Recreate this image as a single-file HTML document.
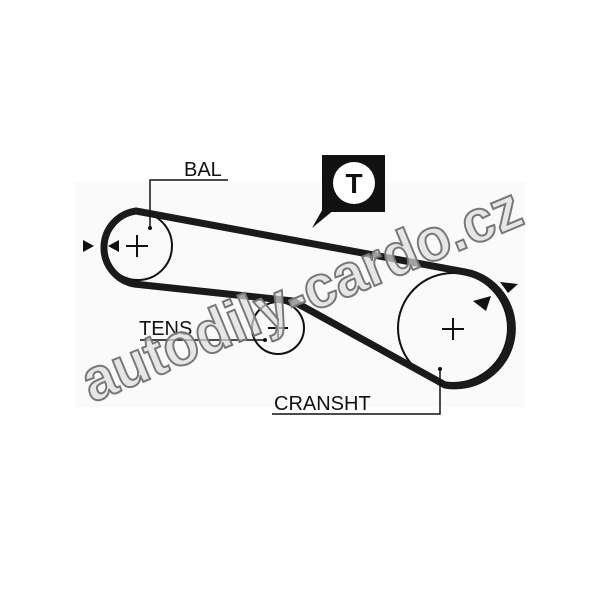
<!DOCTYPE html>
<html><head><style>html,body{margin:0;padding:0;background:#fff}</style></head>
<body>
<svg width="600" height="589" viewBox="0 0 600 589" xmlns="http://www.w3.org/2000/svg">
<rect width="600" height="589" fill="#fff"/>
<rect x="75" y="182" width="450" height="225" fill="#fafafa"/>
<circle cx="138" cy="246" r="34" fill="none" stroke="#111" stroke-width="2"/>
<circle cx="278" cy="328" r="26" fill="none" stroke="#111" stroke-width="2"/>
<circle cx="453" cy="328" r="55" fill="none" stroke="#111" stroke-width="2"/>
<path d="M136,211 L465,272 A57,57 0 0 1 445,385 L293,301 L134,284 A37,37 0 0 1 136,211 Z" fill="none" stroke="#1a1a1a" stroke-width="7" stroke-linejoin="round"/>
<g stroke="#111" stroke-width="2">
<line x1="126" y1="246" x2="148" y2="246"/><line x1="137" y1="235" x2="137" y2="257"/>
<line x1="268" y1="328" x2="288" y2="328"/><line x1="278" y1="318" x2="278" y2="338"/>
<line x1="442" y1="329" x2="464" y2="329"/><line x1="453" y1="318" x2="453" y2="340"/>
</g>
<polygon points="83,240 83,252 94,246" fill="#111"/>
<polygon points="119,240 119,252 108,246" fill="#111"/>
<polygon points="500,282 518,284 508,293" fill="#111"/>
<polygon points="473,301 491,296 486,311" fill="#111"/>
<g stroke="#111" stroke-width="1.5" fill="none">
<polyline points="228,180 150,180 150,228"/>
<line x1="140" y1="340" x2="264" y2="340"/>
<polyline points="272,414 440,414 440,369"/>
</g>
<circle cx="150" cy="228" r="2" fill="#111"/><circle cx="265" cy="340" r="2" fill="#111"/><circle cx="440" cy="369" r="2" fill="#111"/>
<g font-family="Liberation Sans, sans-serif" font-size="20" fill="#111">
<text x="184" y="176">BAL</text>
<text x="139" y="335">TENS</text>
<text x="274" y="410">CRANSHT</text>
</g>
<rect x="322" y="155" width="63" height="57" fill="#111"/>
<polygon points="325,205 340,205 312,228" fill="#111"/>
<circle cx="354" cy="183" r="21" fill="#fff"/>
<text x="354" y="193" text-anchor="middle" font-family="Liberation Sans, sans-serif" font-size="28" font-weight="bold" fill="#111">T</text>
<text x="0" y="0" transform="translate(92,403) rotate(-22.5)" font-family="Liberation Sans, sans-serif" font-size="60" font-weight="bold" fill="#ddd" fill-opacity="0.7" stroke="#777" stroke-width="2" textLength="470" lengthAdjust="spacingAndGlyphs">autodily-cardo.cz</text>
</svg>
</body></html>
